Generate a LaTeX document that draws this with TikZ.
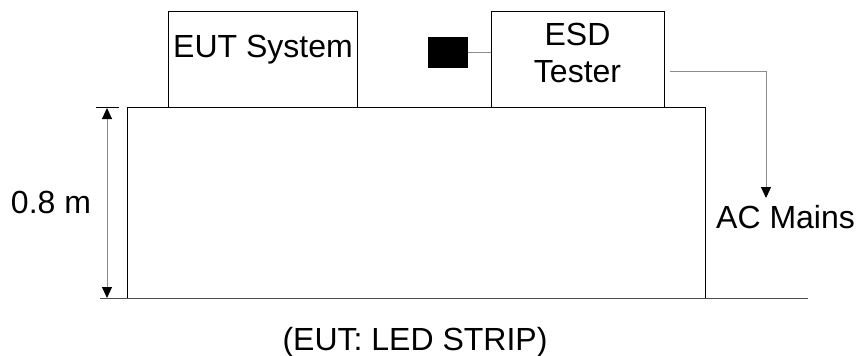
\documentclass[tikz,border=0pt]{standalone}
\usepackage{fontspec}
\setmainfont{Liberation Sans}
\usetikzlibrary{arrows.meta}
\begin{document}
\begin{tikzpicture}[x=1pt,y=-1pt,
  box/.style={draw=black,line width=1pt,inner sep=0pt},
  lbl/.style={font=\fontsize{32}{37}\selectfont,inner sep=0pt,anchor=base},
  wire/.style={draw=black!45,line width=1pt},
  head/.tip={Triangle[length=11pt,width=10pt,color=black]},
  tip/.style={-head},
  dim/.style={wire,head-head}]
\useasboundingbox (0,0) rectangle (857,356);
% floor and table
\draw[line width=1pt,black!70] (100,298.5) -- (808,298.5);
\draw[line width=1pt] (127,298) -- (127,107.5) -- (705,107.5) -- (705,298);
% height dimension
\coordinate (dtop) at (107,108);
\coordinate (dbot) at (107,298);
\draw[line width=1pt] (96,107.5) -- (119,107.5);
\draw[dim] (dtop) -- (dbot);
\node[lbl] (h) at (51,213) {0.8 m};
% equipment on the table
\node[box,minimum width=189pt,minimum height=96pt] (eut) at (262.5,59.5) {};
\node[lbl] at (263,57) {EUT System};
\node[box,minimum width=173pt,minimum height=96pt] (esd) at (577.5,59.5) {};
\node[lbl] at (577.5,45) {ESD};
\node[lbl] at (577.5,82) {Tester};
\node[fill=black,minimum width=40pt,minimum height=31pt,inner sep=0pt] (gun) at (448,52.5) {};
\draw[wire] (gun.east) -- (esd.west |- gun.east);
% mains supply
\coordinate (m0) at (670,71);
\coordinate (m1) at (766,71);
\coordinate (m2) at (766,198);
\draw[wire] (m0) -- (m1);
\draw[wire,tip] (m1) -- (m2);
\node[lbl,anchor=base west] (ac) at (716,228) {AC Mains};
\node[lbl] (cap) at (415,350) {(EUT: LED STRIP)};
\end{tikzpicture}
\end{document}
